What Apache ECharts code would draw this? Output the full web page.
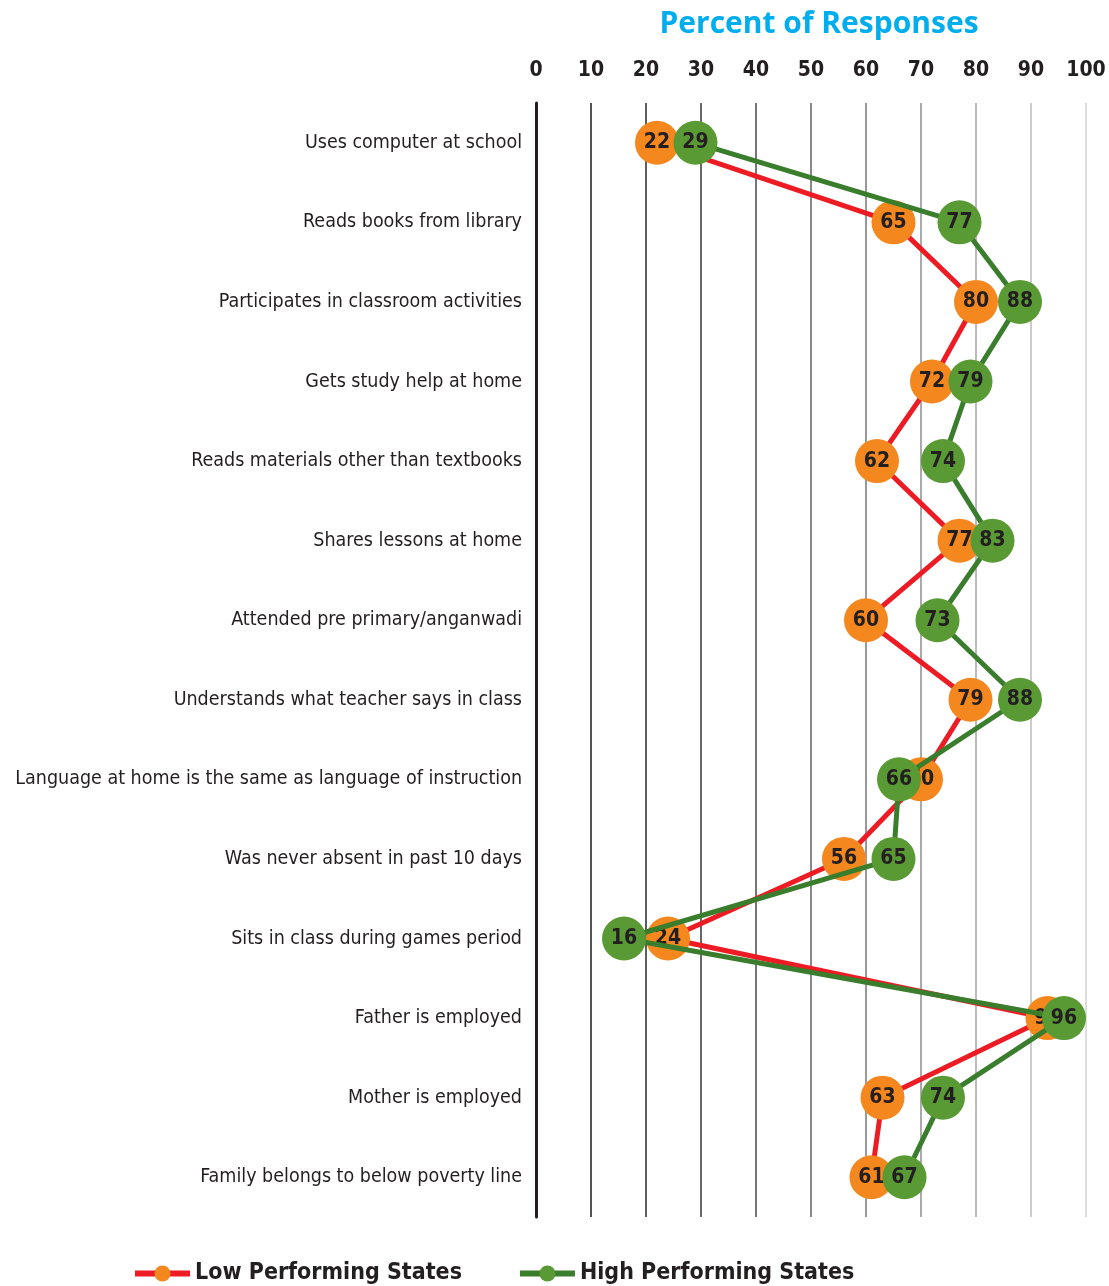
<!DOCTYPE html>
<html>
<head>
<meta charset="utf-8">
<script src="https://cdn.jsdelivr.net/npm/echarts@6/dist/echarts.min.js"></script>
<style>
  html, body { margin: 0; padding: 0; background: #fff; }
  #chart { width: 1109px; height: 1286px; }
</style>
</head>
<body>
<div id="chart"></div>
<script>
// Survey items, top to bottom
const categories = [
  'Uses computer at school',
  'Reads books from library',
  'Participates in classroom activities',
  'Gets study help at home',
  'Reads materials other than textbooks',
  'Shares lessons at home',
  'Attended pre primary/anganwadi',
  'Understands what teacher says in class',
  'Language at home is the same as language of instruction',
  'Was never absent in past 10 days',
  'Sits in class during games period',
  'Father is employed',
  'Mother is employed',
  'Family belongs to below poverty line'
];

// Percent of responses per group
const lowPerforming  = [22, 65, 80, 72, 62, 77, 60, 79, 70, 56, 24, 93, 63, 61];
const highPerforming = [29, 77, 88, 79, 74, 83, 73, 88, 66, 65, 16, 96, 74, 67];

const seriesNames = ['Low Performing States', 'High Performing States'];

// Vertical grid lines fade from dark to light going right
const gridColors = ['#222', '#555', '#5e5e5e', '#686868', '#777', '#888', '#999', '#aaa', '#bbb', '#ccc', '#ddd'];

const narrow = '"DejaVu Sans Condensed", "Liberation Sans Narrow", sans-serif';

const chart = echarts.init(document.getElementById('chart'));

const labelStyle = {
  show: true,
  position: 'inside',
  fontFamily: narrow,
  fontWeight: 'bold',
  fontSize: 21,
  color: '#231f20'
};

chart.setOption({
  animation: false,
  title: {
    text: 'Percent of Responses',
    left: 814,
    top: 4,
    textAlign: 'center',
    textStyle: {
      fontFamily: '"Open Sans", "Noto Sans", sans-serif',
      fontWeight: 'bold',
      fontSize: 30,
      color: '#00aeef'
    }
  },
  legend: {
    bottom: -4,
    left: 127,
    itemGap: 55,
    itemWidth: 55,
    itemHeight: 20,
    textStyle: {
      fontFamily: narrow,
      fontWeight: 'bold',
      fontSize: 23,
      color: '#231f20'
    },
    data: [
      { name: seriesNames[0], lineStyle: { color: '#ed1c24', width: 6 } },
      { name: seriesNames[1], lineStyle: { color: '#3a7d2c', width: 6 } }
    ]
  },
  grid: { left: 536, right: 23, top: 103, bottom: 69, outerBoundsMode: 'none', containLabel: false },
  xAxis: {
    type: 'value',
    position: 'top',
    min: 0,
    max: 100,
    interval: 10,
    axisLine: { show: false },
    axisTick: { show: false },
    axisLabel: {
      margin: 22,
      fontFamily: narrow,
      fontWeight: 'bold',
      fontSize: 21,
      color: '#231f20'
    },
    splitLine: {
      show: true,
      lineStyle: { color: gridColors, width: 2 }
    }
  },
  yAxis: {
    type: 'category',
    inverse: true,
    data: categories,
    axisLine: { show: true, lineStyle: { color: '#231f20', width: 3 } },
    axisTick: { show: false },
    axisLabel: {
      margin: 14,
      fontFamily: narrow,
      fontSize: 19.5,
      color: '#231f20'
    }
  },
  series: [
    {
      name: seriesNames[0],
      type: 'line',
      data: lowPerforming,
      symbol: 'circle',
      symbolSize: 44,
      lineStyle: { color: '#ed1c24', width: 5 },
      itemStyle: { color: '#f5871f' },
      label: labelStyle,
      z: 2
    },
    {
      name: seriesNames[1],
      type: 'line',
      data: highPerforming,
      symbol: 'circle',
      symbolSize: 44,
      lineStyle: { color: '#3a7d2c', width: 5 },
      itemStyle: { color: '#5a9a35' },
      label: labelStyle,
      z: 3
    }
  ]
});
</script>
</body>
</html>
